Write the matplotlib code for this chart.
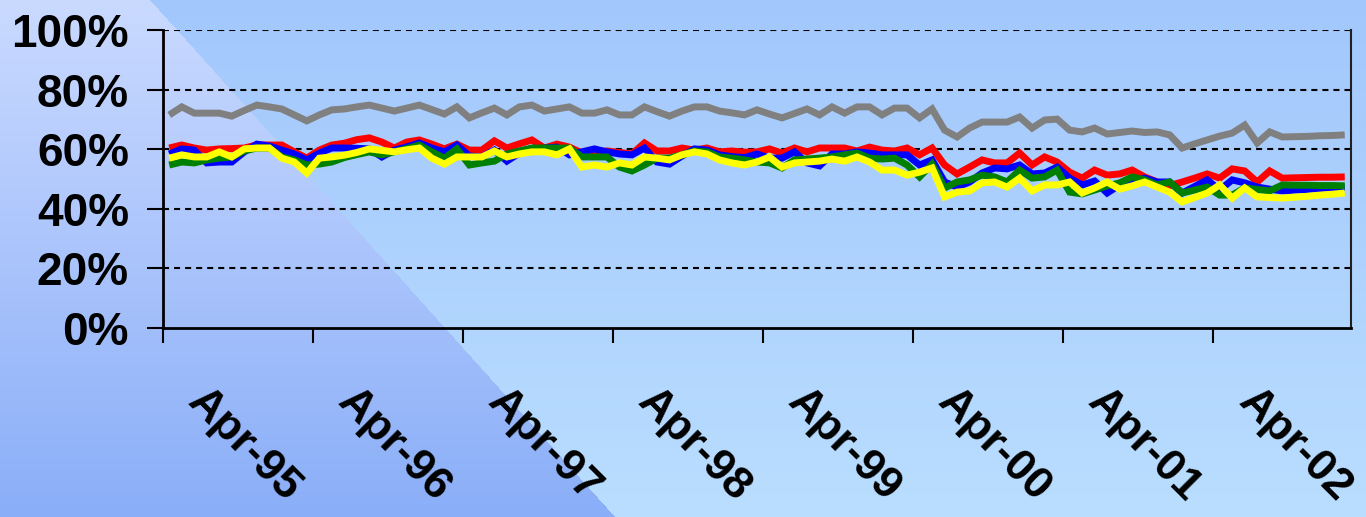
import numpy as np
import matplotlib
matplotlib.use('Agg')
import matplotlib.pyplot as plt
import matplotlib.transforms as mtransforms

plt.rcParams['font.family'] = ['Liberation Sans', 'DejaVu Sans']
plt.rcParams['font.weight'] = 'bold'

# monthly shares (%), Apr-95 .. Feb-03
tick_labels = ['Apr-95', 'Apr-96', 'Apr-97', 'Apr-98',
               'Apr-99', 'Apr-00', 'Apr-01', 'Apr-02']

gray_vals = [71.5, 74.2, 72.1, 72.1, 72.1, 71.1, 73.0, 74.8, 74.2, 73.5,
             71.5, 69.5, 71.5, 73.2, 73.5, 74.2, 74.8, 73.8, 72.8, 73.8,
             74.8, 73.3, 71.8, 74.2, 70.5, 72.2, 73.8, 71.5, 74.2, 74.8,
             72.8, 73.5, 74.2, 72.1, 72.1, 73.2, 71.5, 71.5, 74.2, 72.6,
             71.1, 72.8, 74.2, 74.2, 72.8, 72.2, 71.5, 73.2, 71.8, 70.5,
             72.0, 73.5, 71.5, 74.2, 72.1, 74.2, 74.2, 71.5, 73.8, 73.8,
             70.5, 73.5, 66.4, 64.1, 67.1, 69.1, 69.1, 69.1, 70.8, 67.1,
             69.8, 70.1, 66.4, 65.8, 67.1, 65.1, 65.6, 66.1, 65.6, 65.8,
             64.8, 60.4, 61.8, 63.1, 64.4, 65.4, 68.1, 62.1, 65.8, 64.1,
             64.2, 64.3, 64.5, 64.6, 64.8]

red_vals = [60.4, 61.4, 60.4, 59.7, 60.1, 60.2, 60.4, 61.4, 61.4, 61.4,
            59.1, 57.0, 59.7, 61.4, 62.0, 63.2, 63.8, 62.4, 60.4, 62.4,
            63.1, 61.7, 60.1, 61.7, 59.7, 59.7, 62.8, 60.4, 61.8, 63.1,
            60.4, 61.7, 60.7, 58.7, 59.0, 59.4, 58.9, 58.4, 62.1, 59.4,
            59.4, 60.4, 59.7, 60.4, 59.1, 59.4, 59.0, 59.1, 60.1, 58.7,
            60.4, 59.1, 60.4, 60.4, 60.4, 59.4, 60.7, 59.7, 59.4, 60.4,
            58.1, 60.4, 54.7, 51.7, 54.0, 56.4, 55.4, 55.4, 58.7, 54.7,
            57.4, 55.7, 52.3, 50.3, 53.0, 51.3, 51.7, 53.0, 50.7, 49.0,
            47.8, 49.0, 50.3, 51.7, 50.3, 53.4, 52.7, 49.0, 52.7, 50.3,
            50.4, 50.5, 50.6, 50.6, 50.7]

blue_vals = [58.4, 60.1, 59.7, 55.4, 55.7, 55.7, 59.1, 61.7, 61.1, 59.7,
             58.4, 56.4, 58.7, 60.4, 60.4, 60.3, 60.1, 57.4, 59.7, 60.8,
             62.1, 60.4, 59.1, 61.4, 57.7, 57.4, 59.7, 56.0, 58.7, 59.7,
             60.4, 60.7, 58.1, 59.1, 60.1, 59.1, 58.4, 58.1, 60.4, 55.7,
             55.0, 57.7, 60.1, 59.7, 58.1, 57.5, 57.2, 58.4, 57.0, 57.0,
             59.1, 55.4, 54.4, 58.4, 58.4, 59.1, 58.7, 58.1, 58.1, 58.1,
             54.7, 56.4, 49.0, 47.3, 49.0, 52.0, 53.7, 53.4, 54.7, 51.7,
             52.0, 54.0, 50.3, 48.0, 49.3, 45.3, 48.0, 49.0, 50.3, 49.0,
             49.0, 45.3, 47.5, 49.7, 46.3, 49.7, 48.7, 47.3, 46.6, 46.0,
             46.3, 46.5, 46.8, 47.0, 47.3]

green_vals = [54.7, 55.7, 55.4, 56.4, 57.0, 57.4, 59.4, 60.4, 60.4, 57.4,
              56.4, 54.7, 55.0, 55.7, 57.2, 58.2, 59.1, 58.1, 59.1, 60.2,
              61.4, 59.1, 57.0, 60.1, 54.7, 55.4, 56.0, 58.4, 59.4, 60.4,
              60.4, 60.4, 60.4, 57.4, 57.4, 57.4, 54.0, 52.7, 54.7, 57.0,
              57.0, 58.1, 59.4, 59.1, 57.4, 57.0, 56.4, 55.7, 55.4, 53.7,
              56.4, 56.7, 57.0, 57.4, 58.1, 58.7, 57.0, 56.7, 57.0, 54.7,
              50.7, 55.0, 47.0, 49.0, 49.7, 51.3, 50.7, 49.0, 53.0, 50.3,
              50.7, 53.0, 45.6, 45.0, 46.3, 47.7, 48.7, 50.7, 49.7, 48.0,
              49.0, 45.3, 46.3, 47.3, 44.6, 44.6, 47.0, 46.5, 46.0, 48.0,
              47.9, 47.9, 47.8, 47.8, 47.7]

yellow_vals = [57.0, 58.1, 57.4, 57.4, 59.1, 57.4, 60.1, 60.4, 60.4, 57.0,
               55.7, 52.0, 57.0, 57.4, 58.0, 58.9, 60.1, 59.6, 59.1, 59.8,
               60.4, 57.0, 55.0, 57.4, 57.4, 57.4, 59.4, 57.4, 58.4, 59.1,
               59.1, 58.1, 60.1, 54.0, 54.7, 54.0, 55.4, 54.7, 57.4, 57.0,
               56.4, 58.1, 59.1, 58.4, 56.4, 55.4, 54.7, 55.7, 57.4, 54.0,
               55.4, 55.7, 56.0, 56.7, 56.0, 57.4, 55.7, 53.0, 53.0, 51.3,
               52.3, 53.7, 44.0, 45.6, 46.0, 48.7, 49.0, 47.3, 50.3, 46.0,
               48.0, 48.0, 49.0, 45.3, 47.0, 49.0, 46.6, 47.7, 49.0, 47.3,
               45.6, 42.3, 43.8, 45.3, 48.0, 43.6, 47.0, 44.0, 43.8, 43.6,
               43.9, 44.2, 44.6, 44.9, 45.3]

series = [(gray_vals, '#808080'), (red_vals, '#ff0000'),
          (blue_vals, '#0000ff'), (green_vals, '#008000'),
          (yellow_vals, '#ffff00')]

W, H = 1366, 517
fig = plt.figure(figsize=(W / 100, H / 100), dpi=100)

# background: two-tone gradient split by a diagonal
bg = fig.add_axes([0, 0, 1, 1], zorder=-10)
yy, xx = np.mgrid[0:H, 0:W]
t = (yy / (H - 1.0))[..., None]
left = (xx < 150 + (615 - 150) / 517.0 * yy)[..., None]
top_l, bot_l = np.array([202, 218, 255]), np.array([138, 174, 248])
top_r, bot_r = np.array([162, 199, 252]), np.array([186, 222, 255])
img = np.where(left, top_l + (bot_l - top_l) * t, top_r + (bot_r - top_r) * t)
bg.imshow(img.astype(np.uint8), aspect='auto', interpolation='nearest')
bg.axis('off')

ax = fig.add_axes([163 / W, (H - 328) / H, (1351 - 163) / W, 298 / H])
ax.set_facecolor('none')

x = np.arange(len(gray_vals)) + 0.5
for vals, col in series:
    ax.plot(x, vals, color=col, lw=5, solid_joinstyle='miter',
            solid_capstyle='butt')

ax.set_xlim(0, 95)
ax.set_ylim(0, 100)
ax.set_yticks(range(0, 101, 20))
ax.set_yticklabels(['%d%%' % v for v in range(0, 101, 20)])
ax.set_xticks(range(0, 85, 12))
ax.set_xticklabels(tick_labels, rotation=-45, ha='left', va='top')

for yv in range(20, 101, 20):
    ax.axhline(yv, color='black', lw=1.5, ls=(0, (2.9, 2.4)), zorder=0.5)

ax.tick_params(axis='y', length=11.5, width=1.5, pad=13, labelsize=33)
ax.tick_params(axis='x', length=11, width=1.5, pad=27, labelsize=32)
for lbl in ax.get_xticklabels():
    lbl.set_transform(lbl.get_transform() +
                      mtransforms.ScaledTranslation(0.17, 0, fig.dpi_scale_trans))

for side in ['left', 'bottom']:
    ax.spines[side].set_linewidth(2)
    ax.spines[side].set_color('black')
ax.spines['right'].set_linewidth(1.5)
ax.spines['right'].set_color('#202020')
ax.spines['top'].set_visible(False)

fig.savefig('out.png', dpi=100)
